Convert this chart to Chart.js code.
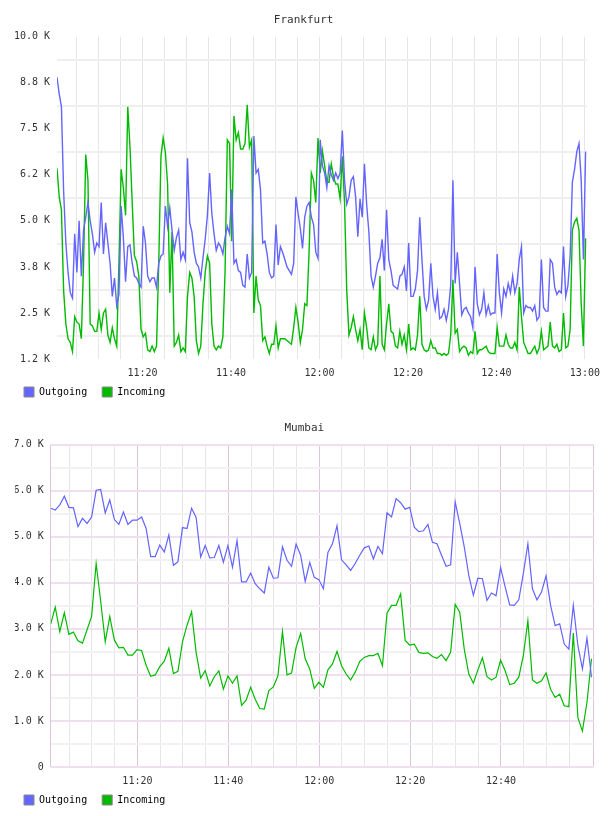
<!DOCTYPE html>
<html><head><meta charset="utf-8">
<script src="https://cdn.jsdelivr.net/npm/chart.js@4.4.1/dist/chart.umd.min.js"></script>
<style>
html,body{margin:0;padding:0;background:#fff;}
.box{position:relative;width:608px;height:408px;}
</style></head><body>
<div class="box"><canvas id="c1"></canvas></div>
<div class="box"><canvas id="c2"></canvas></div>
<script>
// ---------- DATA ----------
const seriesNames = ['Outgoing', 'Incoming'];

// Frankfurt: samples every 30 s from 11:00:40, values in K
const frankfurtStartMin = 40/60;   // minutes after 11:00
const frankfurtStepMin = 0.5;
const frankfurtOutgoing = [
8.9,8.45,8.1,5.8,4.4,3.6,3.05,2.9,4.65,3.6,
5.0,3.5,4.75,5.1,5.5,5.0,4.65,4.15,4.4,4.3,
5.5,4.1,4.95,4.4,3.85,2.95,3.45,2.7,3.0,5.4,
4.55,3.35,4.3,4.35,3.85,3.5,3.45,3.3,3.2,4.85,
4.4,3.5,3.35,3.45,3.45,3.2,3.85,4.05,4.1,5.4,
4.85,5.35,4.75,4.2,4.55,4.75,3.95,4.15,3.95,6.7,
4.95,4.7,4.15,3.85,3.75,3.45,4.0,4.5,5.15,6.3,
5.2,4.65,4.2,4.4,4.3,4.1,4.55,4.85,4.65,5.85,
3.85,3.95,3.65,3.6,3.25,3.2,4.1,3.45,3.6,7.3,
6.3,6.4,5.85,4.4,4.45,4.1,3.6,3.45,3.5,4.9,
3.8,4.3,4.15,3.95,3.75,3.65,3.55,3.85,5.65,5.2,
4.8,4.25,5.1,5.4,5.5,5.1,4.9,4.15,3.98,7.2,
6.5,6.3,5.9,6.5,6.25,6.1,6.3,6.15,6.3,7.45,
6.1,5.45,5.65,6.1,6.2,5.65,4.57,5.6,5.1,6.55,
5.45,4.7,3.5,3.2,3.5,3.85,4.0,4.5,3.65,5.3,
3.95,3.65,3.25,3.2,3.15,3.5,3.55,3.75,3.1,4.4,
2.95,2.95,3.15,3.65,5.1,3.95,2.95,2.6,2.85,3.85,
2.95,2.6,3.05,2.35,2.4,2.6,2.3,2.6,3.25,6.1,
3.3,4.15,3.3,2.45,2.6,2.65,2.5,2.4,2.1,3.75,
2.75,2.45,2.6,3.05,2.45,2.7,2.45,2.5,2.5,4.1,
3.05,2.5,3.15,2.95,3.3,3.05,3.5,3.05,3.3,3.95,
4.3,2.5,2.7,2.65,2.65,2.55,2.7,2.3,2.4,3.95,
2.65,2.55,2.55,3.95,3.85,3.2,3.0,3.1,3.05,4.3,
2.95,3.25,4.05,6.05,6.4,6.88,7.1,6.1,3.95,6.88
];
const frankfurtIncoming = [
6.43,5.65,5.3,3.1,2.2,1.8,1.7,1.45,2.4,2.25,
2.2,1.8,3.85,6.8,6.1,2.2,2.15,2.0,2.0,2.5,
2.05,2.5,2.6,1.9,1.7,2.1,1.8,1.6,3.85,6.4,
5.9,5.15,8.1,7.0,5.5,4.05,3.9,3.5,2.05,1.85,
1.95,1.5,1.45,1.6,1.45,1.6,3.85,6.75,7.25,6.85,
6.0,3.05,4.7,1.6,1.7,1.9,1.45,1.55,1.45,2.95,
3.6,3.45,2.95,1.75,1.4,1.6,2.75,3.6,4.05,3.85,
2.2,1.6,1.5,1.6,1.55,1.85,3.65,7.2,7.1,4.45,
7.85,7.2,7.4,6.95,6.95,7.1,8.15,7.0,7.2,2.5,
3.5,2.85,2.7,1.75,1.85,1.6,1.4,1.65,1.65,2.15,
1.55,1.8,1.8,1.8,1.75,1.7,1.65,2.1,2.65,2.25,
1.7,2.05,2.75,2.7,4.2,6.3,6.1,5.5,7.25,6.3,
6.9,6.5,6.05,6.05,6.55,6.2,6.0,6.0,5.6,6.75,
5.5,3.1,1.9,2.1,2.4,2.05,1.75,2.05,1.5,2.5,
2.1,1.55,1.5,1.85,1.5,1.65,3.5,1.65,1.5,2.2,
2.75,2.0,1.95,1.6,1.55,2.0,1.65,1.9,1.5,2.2,
1.5,1.55,1.5,1.9,2.95,1.65,1.5,1.45,1.5,1.75,
1.55,1.55,1.4,1.4,1.35,1.4,1.35,1.4,1.9,3.4,
1.95,2.05,1.45,1.55,1.6,1.55,1.35,1.45,1.4,2.0,
1.4,1.5,1.5,1.55,1.6,1.45,1.4,1.4,1.4,2.1,
1.6,1.6,1.6,1.9,1.65,1.55,1.55,1.7,1.5,3.2,
2.4,1.7,1.55,1.4,1.4,1.5,1.6,1.4,1.55,2.0,
1.5,1.55,1.6,2.25,1.6,1.55,1.65,1.45,1.5,2.5,
1.55,1.6,2.05,4.75,4.97,5.07,4.75,2.75,1.6,4.53
];
const frankfurtYTickValues = [1.25,2.5,3.75,5,6.25,7.5,8.75,10];
const frankfurtYTickLabels = ['1.2 K','2.5 K','3.8 K','5.0 K','6.2 K','7.5 K','8.8 K','10.0 K'];
const frankfurtTimeLabels = ['11:20','11:40','12:00','12:20','12:40','13:00'];
const frankfurtAxisMin = 40/60, frankfurtAxisMax = 120.44;

// Mumbai: samples every minute from 11:00:55, values in K
const mumbaiStartMin = 55/60;
const mumbaiStepMin = 1;
const mumbaiOutgoing = [
5.62,5.58,5.69,5.88,5.64,5.63,5.22,5.4,5.29,5.43,
6.01,6.03,5.52,5.8,5.38,5.27,5.54,5.27,5.36,5.36,
5.43,5.18,4.57,4.57,4.82,4.67,5.04,4.38,4.46,5.2,
5.18,5.62,5.42,4.56,4.81,4.54,4.55,4.81,4.45,4.81,
4.34,4.92,4.02,4.02,4.21,3.98,3.87,3.78,4.34,4.1,
4.11,4.78,4.49,4.36,4.84,4.6,4.03,4.44,4.12,4.07,
3.87,4.66,4.85,5.24,4.5,4.39,4.27,4.42,4.6,4.76,
4.8,4.52,4.79,4.63,5.52,5.43,5.83,5.74,5.6,5.64,
5.21,5.11,5.13,5.27,4.88,4.85,4.6,4.36,4.39,5.76,
5.29,4.78,4.16,3.73,4.1,4.09,3.62,3.78,3.72,4.33,
3.91,3.52,3.51,3.63,4.2,4.85,3.87,3.63,3.8,4.15,
3.51,3.07,3.11,2.67,2.56,3.51,2.64,2.13,2.8,1.95
];
const mumbaiIncoming = [
3.11,3.47,2.94,3.35,2.88,2.93,2.74,2.69,2.98,3.27,
4.42,3.6,2.72,3.27,2.76,2.59,2.6,2.43,2.43,2.55,
2.53,2.21,1.97,2.0,2.18,2.3,2.58,2.03,2.08,2.72,
3.08,3.37,2.49,1.93,2.09,1.76,1.96,2.09,1.69,1.98,
1.82,1.98,1.34,1.45,1.73,1.47,1.27,1.26,1.66,1.74,
1.98,2.94,2.0,2.04,2.6,2.9,2.35,2.13,1.71,1.84,
1.73,2.11,2.24,2.51,2.2,2.02,1.89,2.06,2.29,2.38,
2.42,2.42,2.47,2.2,3.34,3.51,3.51,3.76,2.75,2.65,
2.67,2.49,2.47,2.48,2.4,2.36,2.44,2.31,2.49,3.53,
3.36,2.56,2.02,1.82,2.11,2.37,1.96,1.89,1.95,2.32,
2.09,1.79,1.82,1.95,2.42,3.18,1.89,1.82,1.87,2.04,
1.69,1.51,1.58,1.33,1.31,2.91,1.07,0.78,1.4,2.35
];
const mumbaiYTickValues = [0,1,2,3,4,5,6,7];
const mumbaiYTickLabels = ['0','1.0 K','2.0 K','3.0 K','4.0 K','5.0 K','6.0 K','7.0 K'];
const mumbaiTimeLabels = ['11:20','11:40','12:00','12:20','12:40'];
const mumbaiAxisMin = 55/60, mumbaiAxisMax = 120.4;

// ---------- STYLE ----------
const BLUE = '#6464ff', GREEN = '#00bb00';
const FONT = '"DejaVu Sans Mono", "Liberation Mono", monospace';
Chart.defaults.font.family = FONT;
Chart.defaults.font.size = 10;
Chart.defaults.color = '#333';
Chart.defaults.animation = false;

function fmtTime(v) {
  const h = 11 + Math.floor(v / 60);
  const m = Math.round(v - 60 * Math.floor(v / 60));
  return h + ':' + String(m).padStart(2, '0');
}
function pts(start, step, values) {
  return values.map((v, i) => ({ x: start + i * step, y: v }));
}
function fiveMinuteMarks(min, max) {
  const out = [];
  for (let v = Math.ceil(min / 5) * 5; v <= max + 1e-9; v += 5) out.push(v);
  return out;
}
function withMidpoints(vals) {
  const out = [];
  vals.forEach((v, i) => { out.push(v); if (i < vals.length - 1) out.push((v + vals[i + 1]) / 2); });
  return out;
}
function legendCfg() {
  return {
    position: 'bottom', align: 'start',
    labels: {
      boxWidth: 10, boxHeight: 10, padding: 9, color: '#000',
      font: { size: 10, family: FONT },
      generateLabels: (chart) => chart.data.datasets.map((ds, i) => ({
        text: ds.label + ' ', fillStyle: ds.borderColor, strokeStyle: '#888',
        lineWidth: 1, datasetIndex: i, fontColor: '#000', hidden: false
      }))
    }
  };
}
function titleCfg(text) {
  return { display: true, text, color: '#333', font: { size: 11, weight: 'normal', family: FONT },
           padding: { top: 13.4, bottom: 10.1 } };
}

// ---------- FRANKFURT ----------
new Chart(document.getElementById('c1'), {
  type: 'line',
  data: { datasets: [
    { label: seriesNames[0], data: pts(frankfurtStartMin, frankfurtStepMin, frankfurtOutgoing),
      borderColor: BLUE, borderWidth: 1.4, pointRadius: 0, tension: 0, fill: false },
    { label: seriesNames[1], data: pts(frankfurtStartMin, frankfurtStepMin, frankfurtIncoming),
      borderColor: GREEN, borderWidth: 1.4, pointRadius: 0, tension: 0, fill: false }
  ]},
  options: {
    responsive: true, maintainAspectRatio: false, devicePixelRatio: 1,
    layout: { padding: { left: 15, right: 15.7, top: 0, bottom: 1 } },
    plugins: { title: titleCfg('Frankfurt'), legend: legendCfg(), tooltip: { enabled: false } },
    scales: {
      x: {
        type: 'linear', min: frankfurtAxisMin, max: frankfurtAxisMax,
        afterBuildTicks: s => { s.ticks = fiveMinuteMarks(frankfurtAxisMin, frankfurtAxisMax).map(v => ({ value: v })); },
        ticks: { autoSkip: false, maxRotation: 0, padding: 8, color: '#333',
          callback: v => { const s = fmtTime(v); return frankfurtTimeLabels.includes(s) ? s : ''; } },
        grid: { drawTicks: false, color: '#e6e6e6', lineWidth: 1 },
        border: { display: false },
        afterFit: s => { s.height = 19; }
      },
      y: {
        min: frankfurtYTickValues[0], max: frankfurtYTickValues[frankfurtYTickValues.length - 1],
        afterBuildTicks: s => { s.ticks = withMidpoints(frankfurtYTickValues).map(v => ({ value: v })); },
        ticks: { padding: 7, color: '#333',
          callback: v => { const i = frankfurtYTickValues.indexOf(v); return i >= 0 ? frankfurtYTickLabels[i] : ''; } },
        grid: { drawTicks: false, lineWidth: 2,
          color: c => frankfurtYTickValues.includes(c.tick.value) ? 'rgba(0,0,0,0)' : '#efefef' },
        border: { display: false },
        afterFit: s => { s.width = 42; }
      }
    }
  }
});

// ---------- MUMBAI ----------
new Chart(document.getElementById('c2'), {
  type: 'line',
  data: { datasets: [
    { label: seriesNames[0], data: pts(mumbaiStartMin, mumbaiStepMin, mumbaiOutgoing),
      borderColor: BLUE, borderWidth: 1.2, pointRadius: 0, tension: 0, fill: false },
    { label: seriesNames[1], data: pts(mumbaiStartMin, mumbaiStepMin, mumbaiIncoming),
      borderColor: GREEN, borderWidth: 1.2, pointRadius: 0, tension: 0, fill: false }
  ]},
  options: {
    responsive: true, maintainAspectRatio: false, devicePixelRatio: 1,
    layout: { padding: { left: 15, right: 14.3, top: 0, bottom: 1 } },
    plugins: { title: titleCfg('Mumbai'), legend: legendCfg(), tooltip: { enabled: false } },
    scales: {
      x: {
        type: 'linear', min: mumbaiAxisMin, max: mumbaiAxisMax,
        afterBuildTicks: s => {
          const marks = fiveMinuteMarks(mumbaiAxisMin, mumbaiAxisMax).filter(v => v < mumbaiAxisMax - 1);
          s.ticks = [mumbaiAxisMin, ...marks, mumbaiAxisMax].map(v => ({ value: v }));
        },
        ticks: { autoSkip: false, maxRotation: 0, padding: 8, color: '#333',
          callback: v => { const s = fmtTime(v); return mumbaiTimeLabels.includes(s) && Math.abs(v % 20) < 1e-6 ? s : ''; } },
        grid: { drawTicks: false, lineWidth: 1,
          color: c => {
            const v = c.tick.value;
            return (v === mumbaiAxisMin || v === mumbaiAxisMax || Math.abs(v % 20) < 1e-6) ? '#dcc6dc' : '#ebe3eb';
          } },
        border: { display: false },
        afterFit: s => { s.height = 19; }
      },
      y: {
        min: 0, max: 7,
        afterBuildTicks: s => { s.ticks = withMidpoints(mumbaiYTickValues).map(v => ({ value: v })); },
        ticks: { padding: 7, color: '#333',
          callback: v => { const i = mumbaiYTickValues.indexOf(v); return i >= 0 ? mumbaiYTickLabels[i] : ''; } },
        grid: { drawTicks: false, lineWidth: 2,
          color: c => mumbaiYTickValues.includes(c.tick.value) ? '#eee0ee' : '#f2f2f2' },
        border: { display: false },
        afterFit: s => { s.width = 35.7; }
      }
    }
  }
});

if (frankfurtOutgoing.length !== 240 || frankfurtIncoming.length !== 240) throw new Error('frankfurt len ' + frankfurtOutgoing.length + ' ' + frankfurtIncoming.length);
if (mumbaiOutgoing.length !== 120 || mumbaiIncoming.length !== 120) throw new Error('mumbai len ' + mumbaiOutgoing.length + ' ' + mumbaiIncoming.length);
</script>
</body></html>
